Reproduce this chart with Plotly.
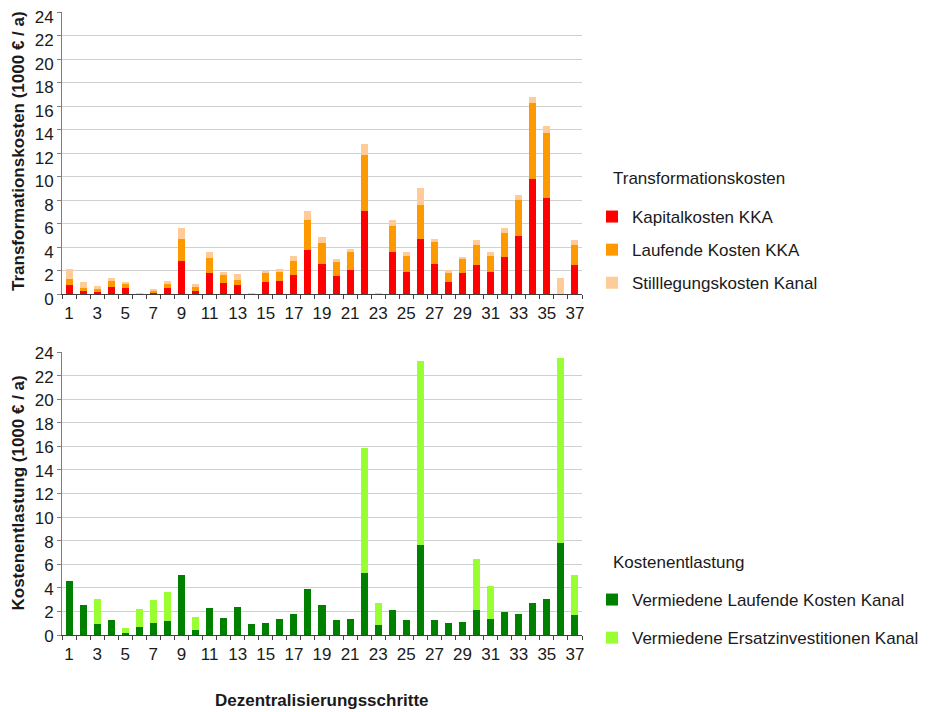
import plotly.graph_objects as go

steps = list(range(1, 38))
tick_labels = [str(i) for i in range(1, 38, 2)]

kapital = [0.74, 0.23, 0.14, 0.57, 0.48, 0.0, 0.14, 0.48, 2.77, 0.23, 1.75, 0.91, 0.74, 0.0, 0.99, 1.08, 1.58, 3.71,
           2.52, 1.50, 2.01, 7.10, 0.0, 3.54, 1.84, 4.64, 2.52, 0.99, 1.75, 2.43, 1.84, 3.11, 4.90, 9.82, 8.21, 0.0, 2.43]
laufend = [0.51, 0.25, 0.26, 0.51, 0.34, 0.0, 0.09, 0.34, 1.87, 0.34, 1.28, 0.67, 0.42, 0.0, 0.76, 0.76, 1.19, 2.63,
           1.78, 1.19, 1.53, 4.76, 0.0, 2.21, 1.36, 2.97, 1.87, 0.76, 1.19, 1.70, 1.36, 2.04, 3.14, 6.45, 5.52, 0.0, 1.70]
stilllegung = [0.84, 0.51, 0.25, 0.25, 0.17, 0.05, 0.17, 0.26, 0.94, 0.25, 0.51, 0.26, 0.51, 0.05, 0.17, 0.25, 0.43, 0.76,
               0.51, 0.25, 0.25, 0.93, 0.05, 0.51, 0.34, 1.45, 0.25, 0.26, 0.17, 0.43, 0.34, 0.43, 0.42, 0.51, 0.59, 1.33, 0.43]

verm_laufend = [4.59, 2.55, 0.93, 1.27, 0.17, 0.68, 1.02, 1.19, 5.09, 0.42, 2.29, 1.44, 2.38, 0.93, 1.02, 1.36, 1.78, 3.91,
                2.55, 1.27, 1.36, 5.26, 0.85, 2.12, 1.27, 7.64, 1.27, 1.02, 1.10, 2.12, 1.36, 1.95, 1.78, 2.72, 3.06, 7.81, 1.70]
verm_ersatz = [0.0, 0.0, 2.13, 0.0, 0.42, 1.53, 1.95, 2.46, 0.0, 1.11, 0.0, 0.0, 0.0, 0.0, 0.0, 0.0, 0.0, 0.0,
               0.0, 0.0, 0.0, 10.62, 1.87, 0.0, 0.0, 15.63, 0.0, 0.0, 0.0, 4.33, 2.80, 0.0, 0.0, 0.0, 0.0, 15.71, 3.39]

W, H = 936, 712
OFF = 8  # page body margin: screen px = figure px + OFF
# target positions in screen pixels
SL, SR = 62, 582
ST1, SB1 = 12, 294
ST2, SB2 = 352, 635
L, R = SL - OFF, SR - OFF
T1, B2 = ST1 - OFF, SB2 - OFF
ph = SB2 - ST1
pw = SR - SL

FONT = "Liberation Sans, Arial, sans-serif"
TXT = "#1a1a1a"
FS = 17

def py(spx):
    return (SB2 - spx) / ph

def pxx(spx):
    return (spx - SL) / pw

fig = go.Figure()

def add_bar(y, name, color, xa, ya, legend, group):
    fig.add_trace(go.Bar(x=steps, y=y, name=name, marker=dict(color=color, line=dict(width=0)),
                         xaxis=xa, yaxis=ya, legend=legend, legendgroup=group))

add_bar(kapital, "Kapitalkosten KKA", "#FF0000", "x", "y", "legend", "a")
add_bar(laufend, "Laufende Kosten KKA", "#FF9900", "x", "y", "legend", "b")
add_bar(stilllegung, "Stilllegungskosten Kanal", "#FFCC99", "x", "y", "legend", "c")
add_bar(verm_laufend, "Vermiedene Laufende Kosten Kanal", "#008000", "x2", "y2", "legend2", "d")
add_bar(verm_ersatz, "Vermiedene Ersatzinvestitionen Kanal", "#99FF33", "x2", "y2", "legend2", "e")

xcommon = dict(range=[0.5, 37.5], tickmode="array", tickvals=list(range(1, 38, 2)), ticktext=tick_labels,
               ticks="outside", ticklen=4, tickcolor="rgba(0,0,0,0)", automargin=False,
               showline=True, linecolor="#404040", linewidth=1,
               tickfont=dict(family=FONT, size=FS, color=TXT), showgrid=False, zeroline=False,
               minor=dict(tickmode="array", tickvals=[i + 0.5 for i in range(0, 38)], ticks="outside",
                          ticklen=4, tickcolor="#404040", tickwidth=1, showgrid=False))
ycommon = dict(range=[0, 24], tickmode="array", tickvals=list(range(0, 25, 2)), ticks="outside", ticklen=4,
               tickcolor="#808080", showline=True, linecolor="#808080", linewidth=1, automargin=False,
               ticklabeloverflow="allow",
               showgrid=True, gridcolor="#d0d0d0", gridwidth=1, zeroline=False,
               tickfont=dict(family=FONT, size=FS, color=TXT))

legcommon = dict(xref="container", yref="container", xanchor="left", yanchor="top",
                 font=dict(family=FONT, size=FS, color=TXT), traceorder="grouped",
                 bgcolor="rgba(0,0,0,0)")

def ann(text, x, y, size=FS, bold=False, angle=0, anchor="left"):
    return dict(text=f"<b>{text}</b>" if bold else text, xref="paper", yref="paper", x=x, y=y,
                showarrow=False, xanchor=anchor, yanchor="middle", textangle=angle,
                font=dict(family=FONT, size=size, color=TXT))

fig.update_layout(
    width=W, height=H,
    margin=dict(l=L, r=W - R, t=T1, b=H - B2),
    paper_bgcolor="white", plot_bgcolor="white",
    barmode="stack", bargap=0.5,
    xaxis=dict(domain=[0, 1], anchor="y", **xcommon),
    xaxis2=dict(domain=[0, 1], anchor="y2", **xcommon),
    yaxis=dict(domain=[py(SB1), 1], anchor="x", ticklabelshift=5, **ycommon),
    yaxis2=dict(domain=[0, py(ST2)], anchor="x2", ticklabelshift=1, **ycommon),
    legend=dict(x=584 / W, y=1 - 191 / H, tracegroupgap=8, **legcommon),
    legend2=dict(x=584 / W, y=1 - 574 / H, tracegroupgap=13, **legcommon),
    annotations=[
        ann("Dezentralisierungsschritte", 0.5, py(700), size=17, bold=True, anchor="center"),
        ann("Transformationskosten (1000 € / a)", pxx(18), py((ST1 + SB1) / 2 - 2), size=17, bold=True,
            angle=-90, anchor="center"),
        ann("Kostenentlastung (1000 € / a)", pxx(18), py((ST2 + SB2) / 2), size=17, bold=True,
            angle=-90, anchor="center"),
        ann("Transformationskosten", pxx(611), py(178)),
        ann("Kostenentlastung", pxx(611), py(562)),
    ],
)

fig.write_html("out.html")
